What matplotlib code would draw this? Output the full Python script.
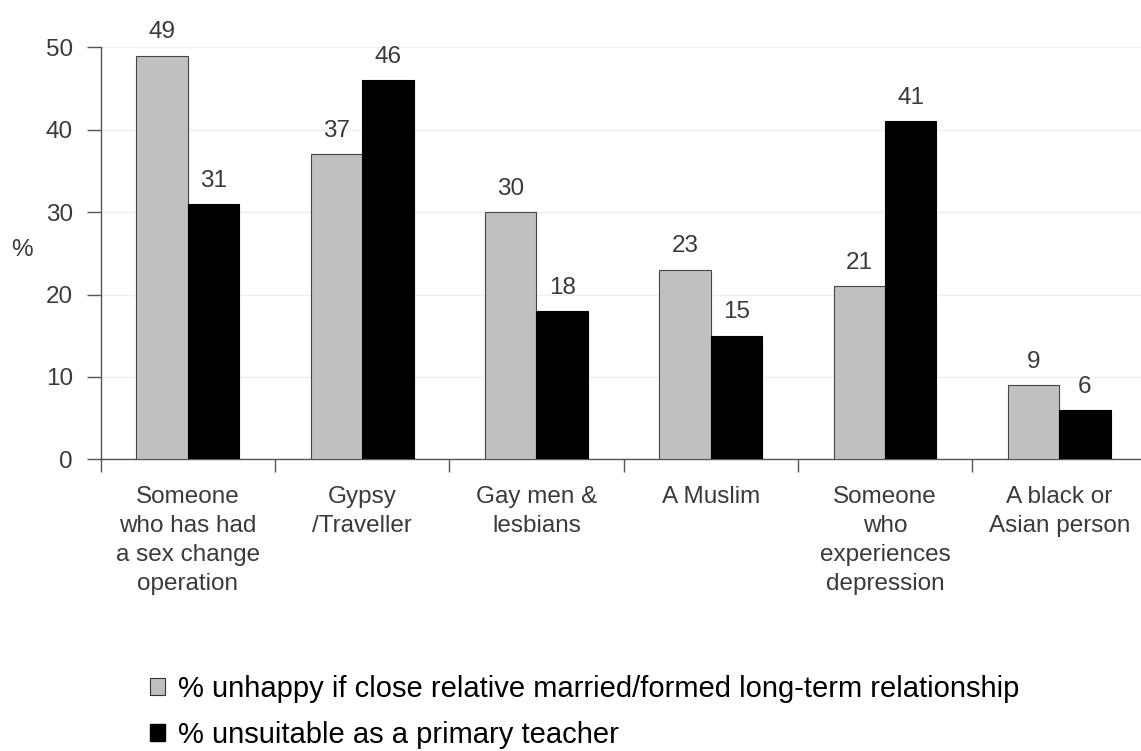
import numpy as np
import matplotlib.pyplot as plt
from matplotlib.patches import Patch

# Data
categories = [
    "Someone\nwho has had\na sex change\noperation",
    "Gypsy\n/Traveller",
    "Gay men &\nlesbians",
    "A Muslim",
    "Someone\nwho\nexperiences\ndepression",
    "A black or\nAsian person",
]
unhappy = [49, 37, 30, 23, 21, 9]
unsuitable = [31, 46, 18, 15, 41, 6]
series_labels = [
    "% unhappy if close relative married/formed long-term relationship",
    "% unsuitable as a primary teacher",
]

plt.rcParams['font.family'] = ['Liberation Sans', 'DejaVu Sans']
txt = '#3a3a3a'
fs = 17.5

fig = plt.figure(figsize=(11.41, 7.51), dpi=100)
ax = fig.add_axes([0.0883, 0.3884, 0.9164, 0.5486])

x = np.arange(len(categories))
w = 0.295
b1 = ax.bar(x - w / 2, unhappy, w, color='#c0c0c0', edgecolor='#444444', lw=0.8, zorder=3)
b2 = ax.bar(x + w / 2, unsuitable, w, color='black', edgecolor='black', lw=0.8, zorder=3)

for bars, vals in [(b1, unhappy), (b2, unsuitable)]:
    for rect, v in zip(bars, vals):
        ax.text(rect.get_x() + rect.get_width() / 2, v + 1.5, str(v), ha='center', va='bottom',
                fontsize=fs, color=txt, clip_on=False)

ax.set_xlim(-0.5, len(categories) - 0.5)
ax.set_ylim(0, 50)
ax.set_yticks([0, 10, 20, 30, 40, 50])
ax.yaxis.grid(True, color='#eeeeee', lw=1, zorder=0)

# category labels at centres, tick marks at group boundaries
ax.set_xticks(x)
ax.set_xticklabels(categories, fontsize=fs, color=txt, linespacing=1.42)
ax.set_xticks(np.arange(len(categories) + 1) - 0.5, minor=True)
ax.tick_params(axis='x', which='major', length=0, pad=19)
ax.tick_params(axis='x', which='minor', length=9, width=1, color='#555555', direction='out')
ax.tick_params(axis='y', length=10, width=1, color='#555555', labelsize=fs, labelcolor=txt, pad=10)

ax.set_ylabel('%', fontsize=fs, color=txt, rotation=0, va='center', ha='center')
ax.yaxis.set_label_coords(-0.075, 0.508)

for s in ['top', 'right']:
    ax.spines[s].set_visible(False)
for s in ['left', 'bottom']:
    ax.spines[s].set_color('#555555')
    ax.spines[s].set_linewidth(1)

handles = [Patch(facecolor='#c0c0c0', edgecolor='#333333', lw=0.8),
           Patch(facecolor='black', edgecolor='black')]
fig.legend(handles, series_labels, loc='upper left', bbox_to_anchor=(150 / 1141, 1 - 675 / 751),
           frameon=False, fontsize=21, handlelength=0.5, handleheight=0.5,
           handletextpad=0.45, labelspacing=0.62, borderaxespad=0, borderpad=0)

fig.savefig('out.png', dpi=100)
